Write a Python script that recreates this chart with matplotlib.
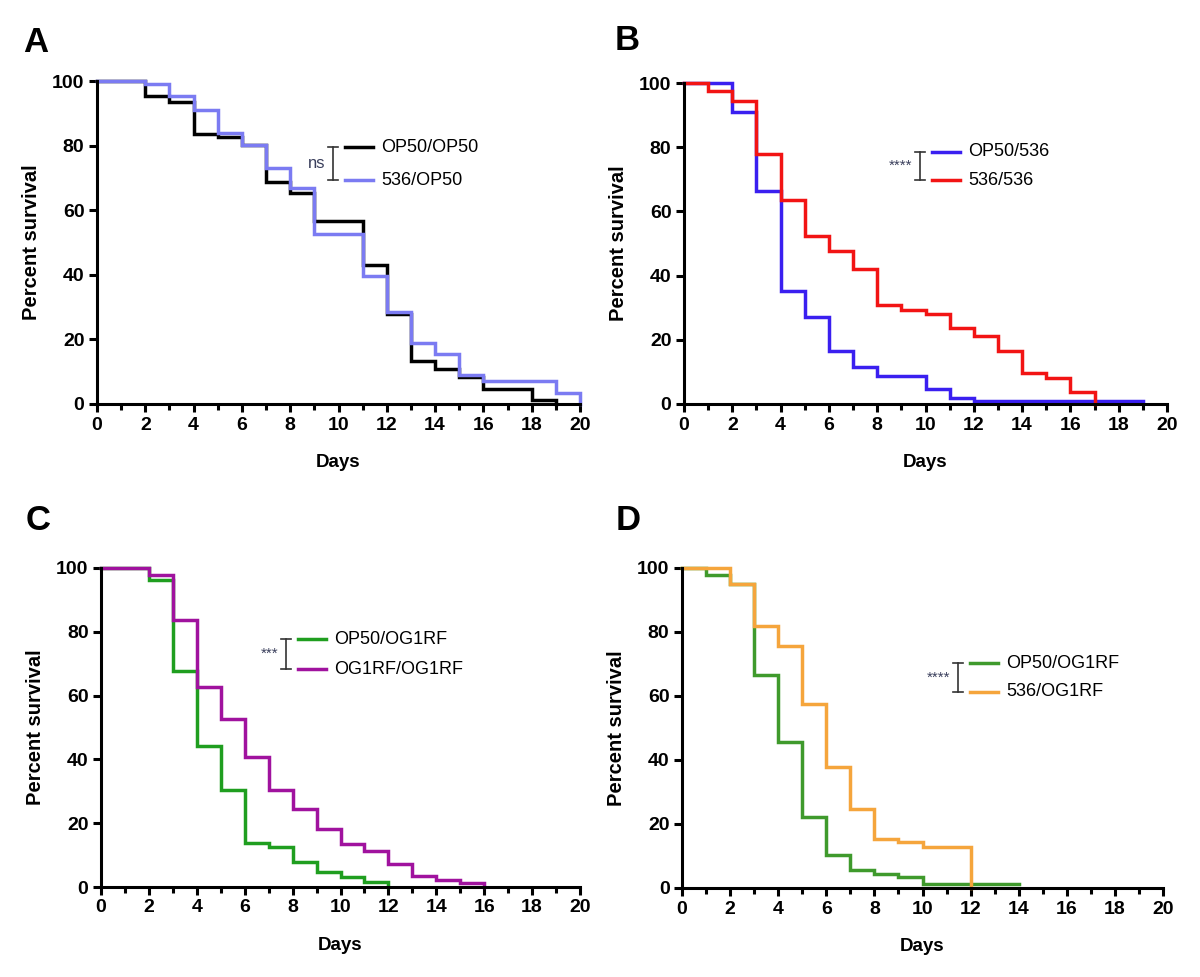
import matplotlib
matplotlib.use("Agg")
import matplotlib.pyplot as plt
from matplotlib.ticker import MultipleLocator

plt.rcParams['font.family'] = ['Liberation Sans', 'DejaVu Sans']

# Panel A: OP50/OP50 vs 536/OP50
a_black_days = [0, 2, 3, 4, 5, 6, 7, 8, 9, 11, 12, 13, 14, 15, 16, 18, 19]
a_black_surv = [100, 95.5, 93.5, 83.6, 82.6, 80.2, 68.7, 65.2, 56.6, 42.9, 27.8, 13.2, 10.7, 8.5, 4.7, 1.2, 0]
a_blue_days = [0, 2, 3, 4, 5, 6, 7, 8, 9, 11, 12, 13, 14, 15, 16, 19, 20]
a_blue_surv = [100, 99.2, 95.5, 90.9, 83.8, 80.2, 73.0, 67.0, 52.6, 39.5, 28.6, 18.9, 15.4, 9.1, 7.0, 3.3, 0]

# Panel B: OP50/536 vs 536/536
b_blue_days = [0, 2, 3, 4, 5, 6, 7, 8, 10, 11, 12, 19]
b_blue_surv = [100, 90.9, 66.3, 35.1, 27.2, 16.6, 11.4, 8.8, 4.7, 1.9, 1.0, 1.0]
b_red_days = [0, 1, 2, 3, 4, 5, 6, 7, 8, 9, 10, 11, 12, 13, 14, 15, 16, 17]
b_red_surv = [100, 97.4, 94.5, 77.9, 63.7, 52.3, 47.8, 42.2, 30.8, 29.4, 27.9, 23.8, 21.2, 16.5, 9.6, 8.2, 3.8, 0]

# Panel C: OP50/OG1RF vs OG1RF/OG1RF
c_green_days = [0, 2, 3, 4, 5, 6, 7, 8, 9, 10, 11, 12]
c_green_surv = [100, 96.3, 67.6, 44.1, 30.5, 13.8, 12.4, 7.8, 4.6, 3.1, 1.5, 0]
c_purple_days = [0, 2, 3, 4, 5, 6, 7, 8, 9, 10, 11, 12, 13, 14, 15, 16]
c_purple_surv = [100, 97.7, 83.6, 62.6, 52.8, 40.7, 30.5, 24.3, 18.2, 13.5, 11.2, 7.3, 3.3, 2.3, 1.1, 0]

# Panel D: OP50/OG1RF vs 536/OG1RF
d_green_days = [0, 1, 2, 3, 4, 5, 6, 7, 8, 9, 10, 14]
d_green_surv = [100, 97.9, 95.1, 66.5, 45.6, 22.1, 10.4, 5.6, 4.4, 3.3, 1.1, 1.1]
d_orange_days = [0, 2, 3, 4, 5, 6, 7, 8, 9, 10, 12]
d_orange_surv = [100, 95.1, 81.8, 75.5, 57.5, 37.8, 24.7, 15.4, 14.4, 12.8, 0]

panels = [
    dict(letter='A', letter_xy=(23, 43), rect=[97, 81, 580, 404],
         series=[(a_black_days, a_black_surv, '#000000', 'OP50/OP50'),
                 (a_blue_days, a_blue_surv, '#7b7bf2', '536/OP50')],
         sig='ns', leg_y=(147, 180), leg_x=345),
    dict(letter='B', letter_xy=(615, 41), rect=[684, 83, 1167, 404],
         series=[(b_blue_days, b_blue_surv, '#3a1ff0', 'OP50/536'),
                 (b_red_days, b_red_surv, '#f21414', '536/536')],
         sig='****', leg_y=(152, 180), leg_x=932),
    dict(letter='C', letter_xy=(26, 521), rect=[101, 568, 580, 887],
         series=[(c_green_days, c_green_surv, '#1f9e1f', 'OP50/OG1RF'),
                 (c_purple_days, c_purple_surv, '#a0129e', 'OG1RF/OG1RF')],
         sig='***', leg_y=(639, 669), leg_x=298),
    dict(letter='D', letter_xy=(616, 521), rect=[682, 568, 1163, 888],
         series=[(d_green_days, d_green_surv, '#3f9a2c', 'OP50/OG1RF'),
                 (d_orange_days, d_orange_surv, '#f5a53c', '536/OG1RF')],
         sig='****', leg_y=(663, 692), leg_x=970),
]

W, H = 1200, 977
fig = plt.figure(figsize=(W / 100, H / 100), dpi=100)

for p in panels:
    x0, y0, x1, y1 = p['rect']
    ax = fig.add_axes([x0 / W, 1 - y1 / H, (x1 - x0) / W, (y1 - y0) / H])
    for days, surv, color, label in p['series']:
        ax.step(days, surv, where='post', color=color, lw=2.5, solid_joinstyle='miter')
    ax.set_xlim(0, 20)
    ax.set_ylim(0, 100)
    ax.xaxis.set_major_locator(MultipleLocator(2))
    ax.xaxis.set_minor_locator(MultipleLocator(1))
    ax.yaxis.set_major_locator(MultipleLocator(20))
    for s in ['top', 'right']:
        ax.spines[s].set_visible(False)
    for s in ['left', 'bottom']:
        ax.spines[s].set_linewidth(2.2)
    ax.tick_params(which='major', direction='out', length=6, width=2.2, labelsize=14, pad=3)
    ax.tick_params(which='minor', direction='out', length=4, width=2.2)
    for lab in ax.get_xticklabels() + ax.get_yticklabels():
        lab.set_fontweight('bold')
    ax.set_xlabel('Days', fontsize=13.5, fontweight='bold', labelpad=15)
    ax.set_ylabel('Percent survival', fontsize=14.5, fontweight='bold', labelpad=8)
    for sp in ax.spines.values():
        sp.set_clip_on(False)
    for ln in ax.lines:
        ln.set_clip_on(False)

    # panel letter
    lxp, lyp = p['letter_xy']
    fig.text(lxp / W, 1 - lyp / H, p['letter'], fontsize=25,
             fontweight='bold', va='center', ha='left')

    # legend with significance bracket
    lx = p['leg_x']
    for (ly, (_, _, color, label)) in zip(p['leg_y'], p['series']):
        fig.add_artist(plt.Line2D([lx / W, (lx + 28) / W], [1 - ly / H, 1 - ly / H],
                                  color=color, lw=2.5))
        fig.text((lx + 36) / W, 1 - ly / H, label, fontsize=13, va='center', ha='left')
    bx = lx - 12
    ya, yb = p['leg_y']
    fig.add_artist(plt.Line2D([bx / W, bx / W], [1 - ya / H, 1 - yb / H], color='#333333', lw=1.2))
    for yy in (ya, yb):
        fig.add_artist(plt.Line2D([(bx - 5) / W, (bx + 5) / W], [1 - yy / H, 1 - yy / H],
                                  color='#333333', lw=1.2))
    fig.text((bx - 8) / W, 1 - ((ya + yb) / 2) / H, p['sig'], fontsize=12 if p['sig'] == 'ns' else 11,
             va='center', ha='right', color='#3a3f5c')

fig.savefig('out.png', dpi=100)
